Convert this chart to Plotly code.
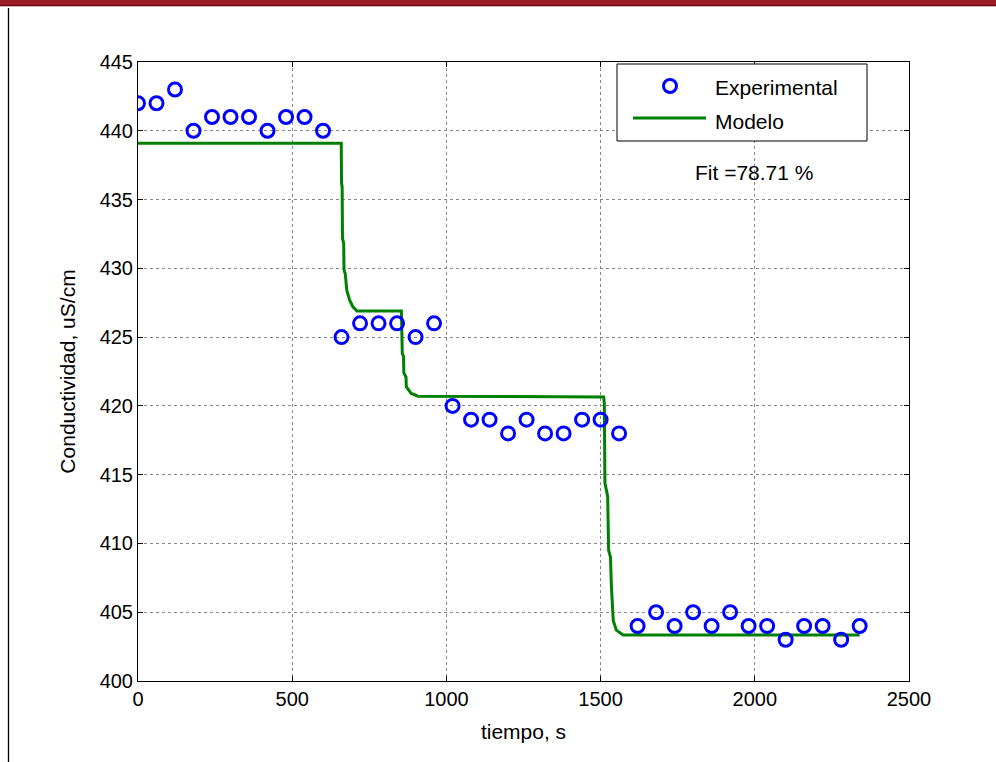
import plotly.graph_objects as go

# Experimental data
exp_t = [0, 60, 120, 180, 240, 300, 360, 420, 480, 540, 600,
         660, 720, 780, 840, 900, 960,
         1020, 1080, 1140, 1200, 1260, 1320, 1380, 1440, 1500, 1560,
         1620, 1680, 1740, 1800, 1860, 1920, 1980, 2040, 2100, 2160, 2220, 2280, 2340]
exp_y = [442, 442, 443, 440, 441, 441, 441, 440, 441, 441, 440,
         425, 426, 426, 426, 425, 426,
         420, 419, 419, 418, 419, 418, 418, 419, 419, 418,
         404, 405, 404, 405, 404, 405, 404, 404, 403, 404, 404, 403, 404]

# Model response
model_t = [0, 659, 660, 662, 663, 667, 668, 672, 677, 686, 697, 710,
           854, 857, 861, 862, 869, 870, 886, 908,
           1510, 1512, 1514, 1523, 1526, 1532, 1535, 1538, 1541, 1551, 1573, 2340]
model_y = [439.1, 439.1, 436.2, 435.9, 432.2, 431.8, 429.9, 429.6, 428.4, 427.7, 427.2, 426.9,
           426.9, 423.8, 423.6, 422.4, 422.1, 421.4, 420.9, 420.7,
           420.65, 420.2, 414.4, 413.4, 409.5, 409.0, 406.9, 405.2, 404.4, 403.7, 403.35, 403.35]

x_ticks = [0, 500, 1000, 1500, 2000, 2500]
y_ticks = [400, 405, 410, 415, 420, 425, 430, 435, 440, 445]

FONT = "Arial, Liberation Sans, sans-serif"

fig = go.Figure()
fig.add_trace(go.Scatter(x=model_t, y=model_y, mode="lines", name="Modelo",
                         line=dict(color="#008000", width=3), showlegend=False))
fig.add_trace(go.Scatter(x=exp_t, y=exp_y, mode="markers", name="Experimental",
                         marker=dict(symbol="circle-open", size=13, color="#0000ff",
                                     line=dict(width=3, color="#0000ff")),
                         showlegend=False))

L, R, T, B = 138, 87, 62, 81
W, H = 996, 762
pw, ph = W - L - R, H - T - B

def px(xpix):
    return (xpix - L) / pw

def py(ypix):
    return (H - B - ypix) / ph

shapes = [
    # top red band
    dict(type="rect", xref="paper", yref="paper", x0=px(-5), x1=px(1005), y0=py(5), y1=py(-5),
         fillcolor="#9c1c25", line=dict(width=0), layer="above"),
    dict(type="line", xref="paper", yref="paper", x0=px(-5), x1=px(1005), y0=py(5.5), y1=py(5.5),
         line=dict(color="#5e0f14", width=1)),
    dict(type="line", xref="paper", yref="paper", x0=px(-5), x1=px(1005), y0=py(6.5), y1=py(6.5),
         line=dict(color="#e0b0b5", width=1)),
    # left page line
    dict(type="line", xref="paper", yref="paper", x0=px(8.5), x1=px(8.5), y0=py(8), y1=py(770),
         line=dict(color="#000000", width=1.3)),
    # legend box
    dict(type="rect", xref="paper", yref="paper", x0=px(617), x1=px(867), y0=py(141), y1=py(64),
         fillcolor="white", line=dict(color="black", width=1), layer="above"),
    dict(type="line", xref="paper", yref="paper", x0=px(633), x1=px(706), y0=py(118), y1=py(118),
         line=dict(color="#008000", width=3), layer="above"),
    dict(type="circle", xref="paper", yref="paper", xsizemode="pixel", ysizemode="pixel",
         xanchor=px(670), yanchor=py(86), x0=-6.5, x1=6.5, y0=-6.5, y1=6.5,
         line=dict(color="#0000ff", width=3), layer="above"),
]

annotations = [
    dict(text="Experimental", xref="paper", yref="paper", x=px(713), y=py(87),
         xanchor="left", yanchor="middle", showarrow=False,
         font=dict(family=FONT, size=21, color="black")),
    dict(text="Modelo", xref="paper", yref="paper", x=px(713), y=py(121),
         xanchor="left", yanchor="middle", showarrow=False,
         font=dict(family=FONT, size=21, color="black")),
    dict(text="Fit =78.71 %", xref="x", yref="y", x=1800, y=437.0,
         xanchor="left", yanchor="middle", showarrow=False,
         font=dict(family=FONT, size=21, color="black")),
]

fig.update_layout(
    width=W, height=H,
    margin=dict(l=L, r=R, t=T, b=B, pad=0),
    paper_bgcolor="white", plot_bgcolor="white",
    font=dict(family=FONT, size=20, color="black"),
    shapes=shapes, annotations=annotations,
    showlegend=False,
)
fig.update_xaxes(range=[0, 2500], tickvals=x_ticks, ticktext=[str(v) for v in x_ticks],
                 showline=True, linecolor="black", linewidth=1, mirror="allticks",
                 ticks="inside", ticklen=5, tickcolor="black",
                 showgrid=True, gridcolor="#888888", griddash="dot", gridwidth=1,
                 zeroline=False, tickfont=dict(size=20),
                 title=dict(text="tiempo, s", font=dict(size=21), standoff=15))
fig.update_yaxes(range=[400, 445], tickvals=y_ticks, ticktext=[str(v) for v in y_ticks],
                 showline=True, linecolor="black", linewidth=1, mirror="allticks",
                 ticks="inside", ticklen=5, tickcolor="black",
                 showgrid=True, gridcolor="#888888", griddash="dot", gridwidth=1,
                 zeroline=False, tickfont=dict(size=20),
                 title=dict(text="Conductividad, uS/cm", font=dict(size=21), standoff=18))

fig.write_html("out.html", config={"displayModeBar": False},
               post_script="document.body.style.margin='0';")
